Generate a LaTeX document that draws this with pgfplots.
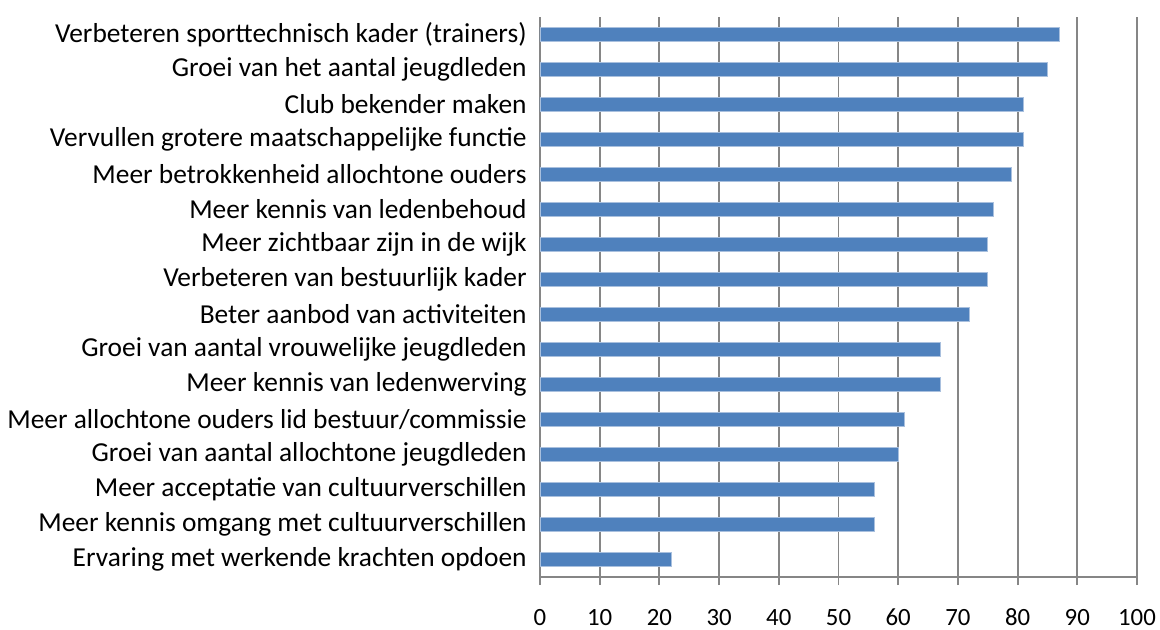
\documentclass[border=0pt]{standalone}
\usepackage{pgfplots}
\pgfplotsset{compat=1.18}
\usepackage{fontspec}
\setmainfont{Carlito}
\definecolor{barblue}{HTML}{4F81BD}
\definecolor{baredge}{HTML}{A9C0DE}
\definecolor{gridgray}{HTML}{868686}
\begin{document}
\begin{tikzpicture}
\useasboundingbox (-270pt,-26.5pt) rectangle (310pt,288.5pt);
\begin{axis}[
  at={(0pt,0pt)}, anchor=south west,
  scale only axis,
  width=298.5pt, height=280pt,
  xmin=0, xmax=100, ymin=-0.5, ymax=15.5,
  xtick={0,10,...,100},
  xmajorgrids,
  major grid style={gridgray, line width=0.9pt},
  axis x line*=bottom, axis y line*=left,
  axis line style={gridgray, line width=0.9pt},
  every tick/.style={gridgray, line width=0.9pt},
  xtick align=outside,
  x tick style={/pgfplots/major tick length=4pt},
  ytick={0,...,15},
  yticklabels={Ervaring met werkende krachten opdoen,
    Meer kennis omgang met cultuurverschillen,
    Meer acceptatie van cultuurverschillen,
    Groei van aantal allochtone jeugdleden,
    Meer allochtone ouders lid bestuur/commissie,
    Meer kennis van ledenwerving,
    Groei van aantal vrouwelijke jeugdleden,
    Beter aanbod van activiteiten,
    Verbeteren van bestuurlijk kader,
    Meer zichtbaar zijn in de wijk,
    Meer kennis van ledenbehoud,
    Meer betrokkenheid allochtone ouders,
    Vervullen grotere maatschappelijke functie,
    Club bekender maken,
    Groei van het aantal jeugdleden,
    Verbeteren sporttechnisch kader (trainers)},
  y tick style={draw=none},
  extra y ticks={-0.5,0.5,...,15.5},
  extra y tick labels={},
  extra y tick style={ytick align=outside, tick style={draw=gridgray, /pgfplots/major tick length=2.5pt}},
  yticklabel style={anchor=east, inner sep=0pt, xshift=-6.5pt, font=\fontsize{13.7}{16}\selectfont},
  xticklabel style={anchor=center, inner sep=0pt, yshift=-16pt, font=\fontsize{12.4}{15}\selectfont},
  /pgf/number format/assume math mode=true,
  clip=false,
]
\addplot[xbar, bar width=7pt, fill=barblue, draw=baredge, line width=0.4pt]
 coordinates {(22,0) (56,1) (56,2) (60,3) (61,4) (67,5) (67,6) (72,7) (75,8) (75,9) (76,10) (79,11) (81,12) (81,13) (85,14) (87,15)};
\end{axis}
\end{tikzpicture}
\end{document}
